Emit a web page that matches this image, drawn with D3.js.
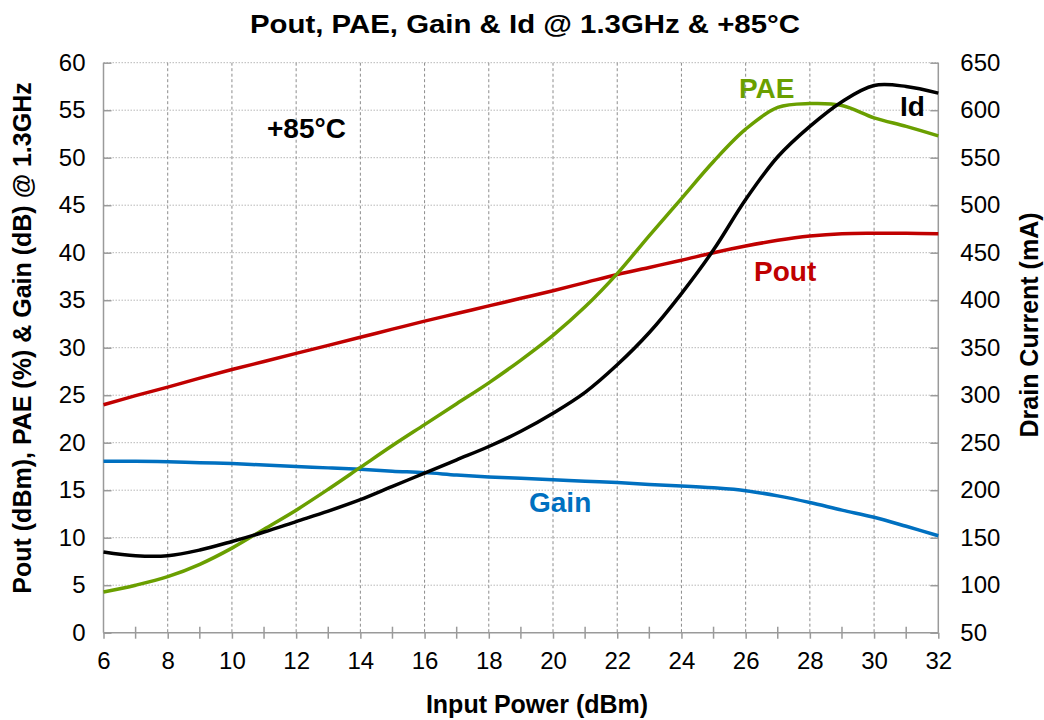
<!DOCTYPE html>
<html><head><meta charset="utf-8">
<script src="https://cdn.jsdelivr.net/npm/d3@7"></script>
<style>
body{margin:0;background:#fff;}
svg{display:block;font-family:"Liberation Sans",Arial,sans-serif;}
</style></head>
<body><svg id="c" width="1044" height="720"></svg>
<script>
const inputPower = [6,7,8,9,10,11,12,13,14,15,16,17,18,19,20,21,22,23,24,25,26,27,28,29,30,31,32];
const pout = [24.0,24.95,25.85,26.8,27.7,28.55,29.4,30.25,31.1,31.95,32.8,33.6,34.4,35.2,36.0,36.85,37.7,38.45,39.2,40.0,40.7,41.3,41.75,42.0,42.05,42.05,42.0];
const pae  = [4.28,5.0,5.9,7.2,8.9,10.9,12.9,15.1,17.4,19.7,21.9,24.1,26.3,28.7,31.3,34.3,37.8,41.8,45.7,49.6,53.0,55.3,55.7,55.5,54.2,53.3,52.3];
const gain = [18.05,18.05,18.0,17.9,17.8,17.65,17.5,17.35,17.2,17.0,16.85,16.6,16.4,16.25,16.1,15.95,15.8,15.6,15.45,15.25,14.95,14.4,13.7,12.9,12.15,11.2,10.2];
const idCurrent = [135,131,131,137,146,156,167,178,190,204,218,232,246,262,281,303,332,366,407,453,506,551,583,609,626,625,618];
const xTicks = [6,8,10,12,14,16,18,20,22,24,26,28,30,32];
const xMinorTicks = [7,9,11,13,15,17,19,21,23,25,27,29,31];
const leftTicks = [0,5,10,15,20,25,30,35,40,45,50,55,60];
const rightTicks = [50,100,150,200,250,300,350,400,450,500,550,600,650];
const title = "Pout, PAE, Gain & Id @ 1.3GHz & +85°C";

const svg = d3.select("#c");
const L=103.5, R=938.3, T=62.7, B=632.7;
const x = d3.scaleLinear().domain([6,32]).range([L,R]);
const yL = d3.scaleLinear().domain([0,60]).range([B,T]);
const yR = d3.scaleLinear().domain([50,650]).range([B,T]);

// gridlines
svg.append("g").selectAll("line").data(leftTicks.filter(d=>d>0)).join("line")
  .attr("x1",L).attr("x2",R).attr("y1",d=>yL(d)).attr("y2",d=>yL(d))
  .attr("stroke","#b8b8b8").attr("stroke-width",1).attr("stroke-dasharray","1.5,1.5");
svg.append("g").selectAll("line").data(xTicks.filter(d=>d>6&&d<32)).join("line")
  .attr("x1",d=>x(d)).attr("x2",d=>x(d)).attr("y1",T).attr("y2",B)
  .attr("stroke","#8c8c8c").attr("stroke-width",1).attr("stroke-dasharray","3,2.5");

// axes
const axCol="#9a9a9a";
const gx = svg.append("g").attr("transform",`translate(0,${B})`)
  .call(d3.axisBottom(x).tickValues(xTicks).tickSize(6).tickPadding(13).tickFormat(d3.format("d")));
const gxm = svg.append("g").attr("transform",`translate(0,${B})`);
gxm.selectAll("line").data(xMinorTicks).join("line")
  .attr("x1",d=>x(d)).attr("x2",d=>x(d)).attr("y1",-6).attr("y2",6).attr("stroke",axCol).attr("stroke-width",1.5);
const gl = svg.append("g").attr("transform",`translate(${L},0)`)
  .call(d3.axisLeft(yL).tickValues(leftTicks).tickSize(-8).tickPadding(18));
const gr = svg.append("g").attr("transform",`translate(${R},0)`)
  .call(d3.axisRight(yR).tickValues(rightTicks).tickSize(-8).tickPadding(22));
[gx,gl,gr].forEach(g=>{
  g.select(".domain").attr("stroke",axCol).attr("stroke-width",1.5);
  g.selectAll(".tick line").attr("stroke",axCol).attr("stroke-width",1.5);
  g.selectAll(".tick text").attr("fill","#000").style("font-size","24px").style("font-family","'Liberation Sans',Arial,sans-serif");
});
gx.select(".domain").attr("d",`M${L},0H${R}`);
gl.select(".domain").attr("d",`M0,${B}V${T}`);
gr.select(".domain").attr("d",`M0,${B}V${T}`);

// lines
const line = (ys, sc) => d3.line().curve(d3.curveCatmullRom.alpha(0.5)).x((d,i)=>x(inputPower[i])).y(d=>sc(d))(ys);
const series = [
  {v:gain, s:yL, c:"#0070c0"},
  {v:pout, s:yL, c:"#c00000"},
  {v:pae, s:yL, c:"#6a9f00"},
  {v:idCurrent, s:yR, c:"#000000"}
];
series.forEach(s=>{
  svg.append("path").attr("d",line(s.v,s.s)).attr("fill","none").attr("stroke",s.c).attr("stroke-width",3.5).attr("stroke-linejoin","round");
});

// labels
const lab = (t,xx,yy,c,size)=>svg.append("text").attr("x",xx).attr("y",yy).attr("fill",c)
  .attr("font-weight","bold").style("font-size",size+"px").text(t);
lab("PAE",739,98,"#6a9f00",28);
lab("Id",900,116,"#000",28);
lab("Pout",754,281,"#c00000",28);
lab("Gain",529,512,"#0070c0",28);
lab("+85°C",267,138,"#000",28);

svg.append("text").attr("x",525).attr("y",33).attr("text-anchor","middle").attr("font-weight","bold")
  .style("font-size","26px").attr("textLength",550).attr("lengthAdjust","spacingAndGlyphs").text(title);
svg.append("text").attr("x",537).attr("y",713).attr("text-anchor","middle").attr("font-weight","bold")
  .style("font-size","25px").text("Input Power (dBm)");
svg.append("text").attr("transform","translate(31,338) rotate(-90)").attr("text-anchor","middle").attr("font-weight","bold")
  .style("font-size","25px").text("Pout (dBm),  PAE (%) & Gain (dB) @ 1.3GHz");
svg.append("text").attr("transform","translate(1038,325) rotate(-90)").attr("text-anchor","middle").attr("font-weight","bold")
  .style("font-size","25px").text("Drain Current (mA)");
</script></body></html>
